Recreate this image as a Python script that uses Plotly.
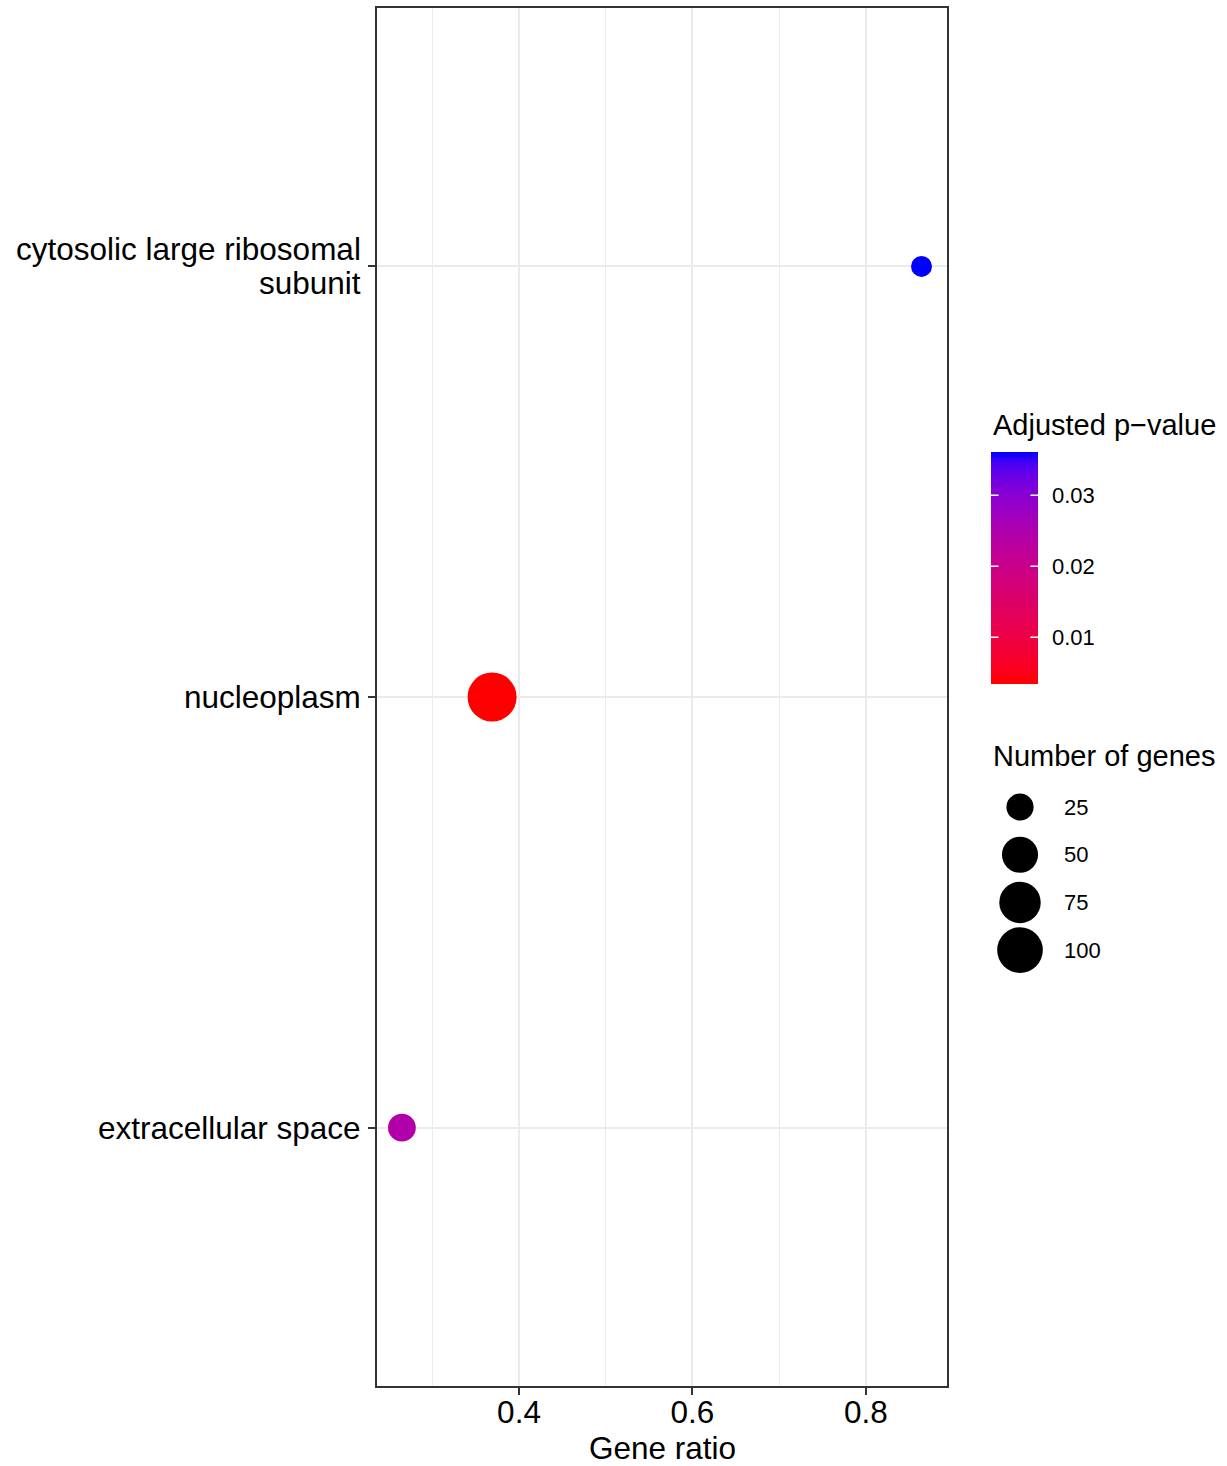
import plotly.graph_objects as go
import numpy as np

# ---------------- data ----------------
terms = ["extracellular space", "nucleoplasm", "cytosolic large ribosomal<br>subunit"]
gene_ratio = [0.265, 0.369, 0.864]
gene_count = [26, 123, 20]
p_adjust = [0.0245, 0.0034, 0.0361]

size_breaks = [25, 50, 75, 100]
size_labels = ["25", "50", "75", "100"]
p_ticks = [0.01, 0.02, 0.03]
p_ticklabels = ["0.01", "0.02", "0.03"]
x_ticks = [0.4, 0.6, 0.8]

FONT = "Liberation Sans"
AXIS_FS = 31.5
W, H = 1227, 1466
ML, MR, MT, MB = 377, 7, 8, 80
PW, PH = W - ML - MR, H - MT - MB


def px2x(px):
    return (px - ML) / PW


def py2y(py):
    return (H - MB - py) / PH


# ---------- Lab colour interpolation (red -> blue) ----------
def srgb_to_lab(rgb):
    c = np.array(rgb, float) / 255
    c = np.where(c > 0.04045, ((c + 0.055) / 1.055) ** 2.4, c / 12.92)
    M = np.array([[0.4124, 0.3576, 0.1805], [0.2126, 0.7152, 0.0722], [0.0193, 0.1192, 0.9505]])
    xyz = M @ c
    wp = np.array([0.95047, 1.0, 1.08883])
    t = xyz / wp
    f = np.where(t > 0.008856, np.cbrt(t), 7.787 * t + 16 / 116)
    return np.array([116 * f[1] - 16, 500 * (f[0] - f[1]), 200 * (f[1] - f[2])])


def lab_to_srgb(lab):
    L, a, b = lab
    fy = (L + 16) / 116
    fx = fy + a / 500
    fz = fy - b / 200
    f = np.array([fx, fy, fz])
    t = np.where(f ** 3 > 0.008856, f ** 3, (f - 16 / 116) / 7.787)
    xyz = t * np.array([0.95047, 1.0, 1.08883])
    Mi = np.array([[3.2406, -1.5372, -0.4986], [-0.9689, 1.8758, 0.0415], [0.0557, -0.2040, 1.0570]])
    c = Mi @ xyz
    c = np.clip(c, 0, 1)
    c = np.where(c > 0.0031308, 1.055 * c ** (1 / 2.4) - 0.055, 12.92 * c)
    c = np.clip(np.round(c * 255), 0, 255).astype(int)
    return f"rgb({c[0]},{c[1]},{c[2]})"


lab_lo = srgb_to_lab((255, 0, 0))
lab_hi = srgb_to_lab((0, 0, 255))
stops = np.linspace(0, 1, 21)
colorscale = [[float(s), lab_to_srgb(lab_lo + (lab_hi - lab_lo) * s)] for s in stops]

pmin, pmax = min(p_adjust), max(p_adjust)

# ---------- size scale (area-like, as ggplot) ----------
dmin, dmax = 21, 49
cmin_, cmax_ = min(gene_count), max(gene_count)


def size_of(v):
    return dmin + (dmax - dmin) * np.sqrt((np.array(v, float) - cmin_) / (cmax_ - cmin_))


fig = go.Figure()
fig.add_trace(go.Scatter(
    x=gene_ratio, y=terms, mode="markers",
    marker=dict(size=size_of(gene_count), sizemode="diameter", color=p_adjust,
                coloraxis="coloraxis", line=dict(width=0), opacity=1),
    showlegend=False, cliponaxis=False,
))

# size legend on helper axes
idx = list(range(len(size_breaks)))
fig.add_trace(go.Scatter(
    x=[40] * len(size_breaks), y=idx, mode="markers",
    marker=dict(size=size_of(size_breaks), sizemode="diameter", color="#000000",
                opacity=1, line=dict(width=0)),
    xaxis="x2", yaxis="y2", showlegend=False, cliponaxis=False, hoverinfo="skip",
))

annotations = []
for i, lab in zip(idx, size_labels):
    annotations.append(dict(x=82, y=i, xref="x2", yref="y2", text=lab, showarrow=False,
                            xanchor="left", yanchor="middle",
                            font=dict(family=FONT, size=22, color="black")))

# y category labels (multi-line labels with tighter line spacing, as in the original)
LINE_H = 34
for term in terms:
    lines = term.split("<br>")
    n = len(lines)
    for k, line in enumerate(lines):
        shift = ((n - 1) / 2 - k) * LINE_H
        annotations.append(dict(x=px2x(363), y=term, xref="paper", yref="y", text=line,
                                showarrow=False, xanchor="right", yanchor="middle",
                                yshift=shift, font=dict(family=FONT, size=AXIS_FS, color="black")))

# x axis title
annotations.append(dict(x=px2x(662), y=py2y(1448), xref="paper", yref="paper",
                        text="Gene ratio", showarrow=False, xanchor="center",
                        yanchor="middle", font=dict(family=FONT, size=AXIS_FS, color="black")))

annotations.append(dict(x=px2x(991), y=py2y(425), xref="paper", yref="paper",
                        text="Adjusted p\u2212value", showarrow=False, xanchor="left",
                        yanchor="middle", font=dict(family=FONT, size=29, color="black")))
annotations.append(dict(x=px2x(991), y=py2y(756), xref="paper", yref="paper",
                        text="Number of genes", showarrow=False, xanchor="left",
                        yanchor="middle", font=dict(family=FONT, size=29, color="black")))

# colorbar geometry (px)
cb_left, cb_top, cb_w, cb_h = 991, 452, 47, 232
for p in p_ticks:
    py = cb_top + cb_h - (p - pmin) / (pmax - pmin) * cb_h
    for xs, ax in [(cb_left, 9), (cb_left + cb_w, -9)]:
        annotations.append(dict(x=px2x(xs), y=py2y(py), xref="paper", yref="paper", text="",
                                showarrow=True, arrowhead=0, arrowwidth=1.5, arrowcolor="white",
                                ax=ax, ay=0, standoff=0, startstandoff=0))

grid_c = "#EBEBEB"
fig.update_layout(
    width=W, height=H,
    margin=dict(l=ML, r=MR, t=MT, b=MB, pad=0, autoexpand=False),
    paper_bgcolor="white", plot_bgcolor="white",
    font=dict(family=FONT, color="black"),
    xaxis=dict(domain=[0, px2x(947)], range=[0.2363, 0.8934], tickvals=x_ticks,
               ticktext=[f"{v:.1f}" for v in x_ticks],
               showgrid=True, gridcolor=grid_c, gridwidth=1.6,
               minor=dict(tickvals=[0.3, 0.5, 0.7], showgrid=True, gridcolor=grid_c, gridwidth=0.9, ticks=""),
               zeroline=False, showline=True, mirror=True, linecolor="#333333", linewidth=1.5,
               ticks="outside", ticklen=7, tickwidth=1.5, tickcolor="#333333",
               ticklabelstandoff=-10,
               tickfont=dict(family=FONT, size=AXIS_FS, color="black")),
    yaxis=dict(domain=[0, 1], type="category", categoryorder="array", categoryarray=terms,
               range=[-0.6, 2.6], showgrid=True, gridcolor=grid_c, gridwidth=1.6,
               zeroline=False, showline=True, mirror=True, linecolor="#333333", linewidth=1.5,
               ticks="outside", ticklen=7, tickwidth=1.5, tickcolor="#333333",
               showticklabels=False),
    xaxis2=dict(domain=[px2x(980), px2x(1220)], range=[0, 240], visible=False,
                anchor="y2", fixedrange=True),
    yaxis2=dict(domain=[py2y(1000), py2y(760)], range=[(1000 - 807) / 47.7, (760 - 807) / 47.7],
                visible=False, anchor="x2", fixedrange=True),
    coloraxis=dict(
        colorscale=colorscale, cmin=pmin, cmax=pmax,
        colorbar=dict(
            x=px2x(cb_left), xanchor="left", xpad=0,
            y=py2y(cb_top + cb_h / 2), yanchor="middle", ypad=0,
            len=cb_h, lenmode="pixels", thickness=cb_w, thicknessmode="pixels",
            outlinewidth=0, tickvals=p_ticks, ticktext=p_ticklabels,
            ticks="outside", ticklen=10, tickwidth=1, tickcolor="white",
            tickfont=dict(family=FONT, size=22, color="black"),
        ),
    ),
    annotations=annotations,
)

fig.write_html("out.html", config={"displayModeBar": False},
               post_script="document.body.style.margin='0';")
